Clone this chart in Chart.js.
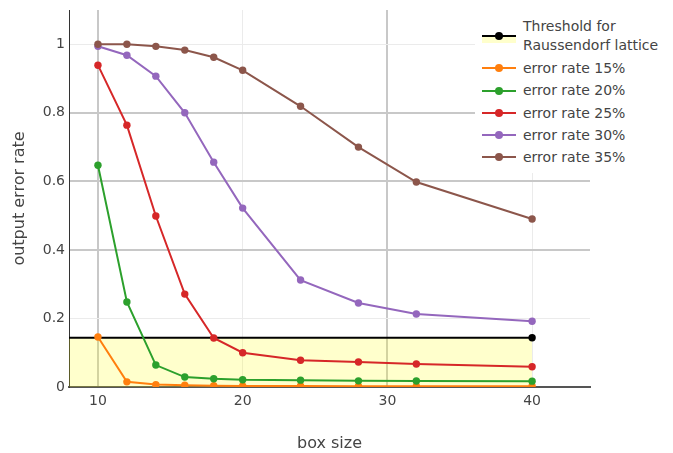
<!DOCTYPE html>
<html>
<head>
<meta charset="utf-8">
<script src="https://cdn.jsdelivr.net/npm/chart.js@4"></script>
<style>
  html, body { margin: 0; padding: 0; background: #fff; }
  #wrap { position: relative; width: 673px; height: 453px; }
  #legend {
    position: absolute; left: 475px; top: 10px; width: 198px; height: 163px;
    background: #fff; font: 14px 'DejaVu Sans'; color: #444;
  }
  .item { position: absolute; left: 0; display: flex; align-items: center; }
  .sample { position: relative; width: 34px; height: 2px; margin: 0 7px; }
  .fillbox { position: absolute; left: 0; top: 2px; width: 34px; height: 6px; background: rgba(255, 255, 0, 0.2); }
  .dot { position: absolute; left: 13px; top: -3px; width: 8px; height: 8px; border-radius: 50%; }
  .label { line-height: 19px; white-space: nowrap; }
</style>
</head>
<body>
<div id="wrap">
  <canvas id="chart" width="673" height="453"></canvas>
  <div id="legend"></div>
</div>
<script>
const boxSizes = [10, 12, 14, 16, 18, 20, 24, 28, 32, 40]
const rate15 = [0.146, 0.015, 0.007, 0.005, 0.004, 0.003, 0.003, 0.002, 0.002, 0.002]
const rate20 = [0.647, 0.248, 0.064, 0.029, 0.024, 0.021, 0.020, 0.018, 0.0175, 0.017]
const rate25 = [0.939, 0.764, 0.499, 0.271, 0.143, 0.100, 0.078, 0.073, 0.067, 0.059]
const rate30 = [0.994, 0.968, 0.907, 0.800, 0.656, 0.522, 0.312, 0.245, 0.213, 0.192]
const rate35 = [1.0, 1.0, 0.994, 0.983, 0.962, 0.924, 0.819, 0.700, 0.598, 0.490]
const thresholdX = [8, 40]
const thresholdY = [0.1436, 0.1436]

const xTicks = [10, 20, 30, 40]
const yTicks = [0, 0.2, 0.4, 0.6, 0.8, 1]

const colors = {
  black: '#000000',
  orange: '#ff7f0e',
  green: '#2ca02c',
  red: '#d62728',
  purple: '#9467bd',
  brown: '#8c564b',
}

Chart.defaults.font.family = "'DejaVu Sans', sans-serif"
Chart.defaults.color = '#444'

const toPoints = (xs, ys) => xs.map((x, i) => ({ x, y: ys[i] }))

function series(label, values, color, order) {
  return {
    label,
    data: toPoints(boxSizes, values),
    borderColor: color,
    backgroundColor: color,
    borderWidth: 2,
    pointRadius: 3.7,
    pointBorderWidth: 0,
    pointHoverRadius: 3.7,
    fill: false,
    order,
  }
}

const datasets = [
  {
    label: ['Threshold for', 'Raussendorf lattice'],
    data: toPoints(thresholdX, thresholdY),
    borderColor: colors.black,
    backgroundColor: 'rgba(255, 255, 0, 0.2)',
    pointBackgroundColor: colors.black,
    borderWidth: 2,
    pointRadius: [0, 3.7],
    pointBorderWidth: 0,
    fill: 'origin',
    order: 6,
  },
  series('error rate 15%', rate15, colors.orange, 5),
  series('error rate 20%', rate20, colors.green, 4),
  series('error rate 25%', rate25, colors.red, 3),
  series('error rate 30%', rate30, colors.purple, 2),
  series('error rate 35%', rate35, colors.brown, 1),
]

const gridColor = (strong) => (ctx) =>
  strong.includes(ctx.tick && ctx.tick.value) ? '#c8c8c8' : '#ebebeb'
const gridWidth = (strong) => (ctx) =>
  strong.includes(ctx.tick && ctx.tick.value) ? 2 : 1

new Chart(document.getElementById('chart'), {
  type: 'line',
  data: { datasets },
  options: {
    responsive: false,
    animation: false,
    layout: { padding: { left: 0, right: 83, top: 10, bottom: 0 } },
    plugins: {
      legend: { display: false },
      tooltip: { enabled: false },
      filler: { drawTime: 'beforeDatasetsDraw' },
    },
    scales: {
      x: {
        type: 'linear',
        min: 8,
        max: 44,
        afterBuildTicks: (scale) => { scale.ticks = xTicks.map((value) => ({ value })) },
        afterFit: (scale) => {
          scale.height = 66
          scale.paddingLeft = 0
          scale.paddingRight = 0
        },
        ticks: { font: { size: 14 }, padding: 6, maxRotation: 0 },
        grid: { color: gridColor([10, 30]), lineWidth: gridWidth([10, 30]), drawTicks: false },
        border: { color: '#555', width: 2 },
        title: { display: true, text: 'box size', font: { size: 16 }, padding: { top: 0, bottom: 0 } },
      },
      y: {
        type: 'linear',
        min: 0,
        max: 1.1,
        afterBuildTicks: (scale) => { scale.ticks = yTicks.map((value) => ({ value })) },
        afterFit: (scale) => {
          scale.width = 69
          scale.paddingTop = 0
          scale.paddingBottom = 0
        },
        ticks: { font: { size: 14 }, padding: 4, callback: (v) => String(v) },
        grid: { color: gridColor([0.4, 0.6, 0.8]), lineWidth: gridWidth([0.4, 0.6, 0.8]), drawTicks: false },
        border: { color: '#333', width: 1 },
        title: { display: true, text: 'output error rate', font: { size: 16 }, padding: { top: 10, bottom: 0 } },
      },
    },
  },
})

// legend built from the datasets, drawn over the plot like the original
const legend = document.getElementById('legend')
const rowTops = [6.5, 47, 69.5, 92, 114, 136]
datasets.forEach((ds, i) => {
  const item = document.createElement('div')
  item.className = 'item'
  item.style.top = rowTops[i] + 'px'
  item.style.height = (Array.isArray(ds.label) ? 38 : 22) + 'px'

  const sample = document.createElement('div')
  sample.className = 'sample'
  sample.style.background = ds.borderColor
  if (ds.fill === 'origin') {
    const box = document.createElement('div')
    box.className = 'fillbox'
    sample.appendChild(box)
  }
  const dot = document.createElement('div')
  dot.className = 'dot'
  dot.style.background = ds.borderColor
  sample.appendChild(dot)

  const label = document.createElement('div')
  label.className = 'label'
  label.innerHTML = [].concat(ds.label).join('<br>')

  item.appendChild(sample)
  item.appendChild(label)
  legend.appendChild(item)
})
</script>
</body>
</html>
